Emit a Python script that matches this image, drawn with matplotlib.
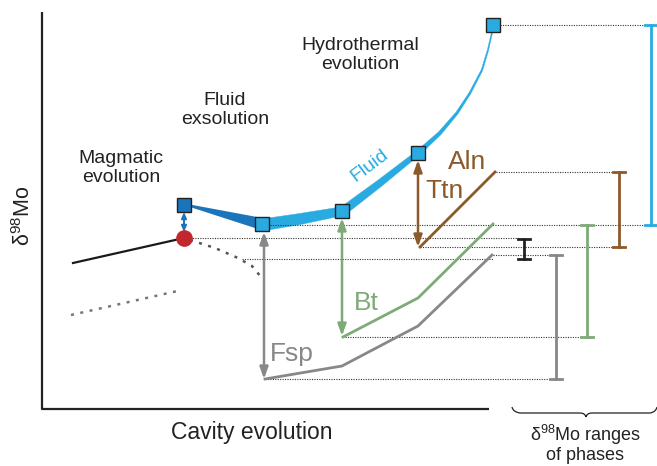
import numpy as np
import matplotlib.pyplot as plt
from matplotlib.path import Path
from matplotlib.patches import PathPatch, Polygon

plt.rcParams['font.family'] = ['Liberation Sans', 'DejaVu Sans']
plt.rcParams['mathtext.fontset'] = 'custom'
plt.rcParams['mathtext.rm'] = 'Liberation Sans'

# schematic in pixel units (y grows downward)
LBLUE, DBLUE, RED = '#29abe2', '#1b75bb', '#c1272d'
GRAY, GREEN, BROWN = '#88888b', '#7eaa78', '#8c5a2a'

melt_x, melt_y = [73, 184], [263, 238]
melt_low_x, melt_low_y = [71, 182], [315, 290]
curve_x, curve_y = [190, 215, 238, 252, 261], [240, 248, 258, 266, 277]

dark_x, dark_y, dark_w = [187, 262], [205, 224], [2, 12]
fluid_x = [262, 300, 343, 380, 418, 440, 457, 470, 482, 488, 493]
fluid_y = [225, 219, 211, 183, 153, 133, 113, 93, 70, 50, 28]
fluid_w = [12, 11, 9, 7, 5, 3.6, 2.6, 2.0, 1.6, 1.3, 1.1]
sq_x = [262, 342, 418, 493]
sq_y = [224, 211, 153, 25]

fsp_x, fsp_y = [265, 342, 418, 492], [379, 366, 326, 255]
bt_x, bt_y = [343, 418, 493], [337, 298, 224]
aln_x, aln_y = [420, 495], [247, 172]

# double arrows: x, top, bottom, colour
arrows = [(184, 212, 232, DBLUE), (264, 232, 379, GRAY),
          (342, 218, 336, GREEN), (418, 160, 247, BROWN)]

# dotted guide lines: y, x start, x end
guides = [(25, 500, 645), (172, 496, 617), (225, 270, 655), (238, 190, 520),
          (247, 420, 617), (255, 493, 556), (259, 242, 493),
          (337, 345, 590), (379, 265, 555)]

# range bars: x, top, bottom, colour
ranges = [(524, 239, 259, '#222222'), (556, 255, 379, GRAY),
          (587, 225, 337, GREEN), (619, 172, 247, BROWN), (651, 25, 225, LBLUE)]


def band(x, y, w):
    x = np.asarray(x, float)
    y = np.asarray(y, float)
    w = np.asarray(w, float) / 2
    dx = np.gradient(x)
    dy = np.gradient(y)
    n = np.hypot(dx, dy)
    nx, ny = -dy / n, dx / n
    top = np.column_stack([x + nx * w, y + ny * w])
    bot = np.column_stack([x - nx * w, y - ny * w])
    return np.vstack([top, bot[::-1]])


fig = plt.figure(figsize=(6.57, 4.66), dpi=100)
ax = fig.add_axes([0, 0, 1, 1])
ax.set_xlim(0, 657)
ax.set_ylim(466, 0)
ax.axis('off')

# axes frame
ax.plot([42, 42, 489], [12, 409, 409], color='#222222', lw=1.6, solid_capstyle='butt')

for y, x0, x1 in guides:
    ax.plot([x0, x1], [y, y], color='#333333', lw=0.8, ls=(0, (1, 1.2)))

ax.plot(melt_x, melt_y, color='#1a1a1a', lw=1.6)
ax.plot(melt_low_x, melt_low_y, color='#777777', lw=1.8, ls=(0, (1.2, 2.6)))
ax.plot(curve_x, curve_y, color='#555555', lw=1.8, ls=(0, (1.2, 2.6)))

ax.add_patch(Polygon(band(dark_x, dark_y, dark_w), closed=True, fc=DBLUE, ec='none'))
ax.add_patch(Polygon(band(fluid_x, fluid_y, fluid_w), closed=True, fc=LBLUE, ec=LBLUE,
                     lw=0.3, joinstyle='round'))

ax.plot(fsp_x, fsp_y, color=GRAY, lw=2)
ax.plot(bt_x, bt_y, color=GREEN, lw=2)
ax.plot(aln_x, aln_y, color=BROWN, lw=2)

for x, y0, y1, c in arrows:
    small = y1 - y0 < 30
    ax.annotate('', xy=(x, y0), xytext=(x, y1),
                arrowprops=dict(arrowstyle='<|-|>,head_length=%s,head_width=%s' %
                                ((0.35, 0.15) if small else (0.7, 0.25)),
                                color=c, lw=1.4 if small else 1.8, shrinkA=0, shrinkB=0))

for x, y0, y1, c in ranges:
    ax.plot([x, x], [y0, y1], color=c, lw=2)
    ax.plot([x - 6, x + 6], [y0, y0], color=c, lw=2)
    ax.plot([x - 6, x + 6], [y1, y1], color=c, lw=2)

ax.plot([184], [238], 'o', ms=11, color=RED, mec=RED, zorder=5)
ax.plot([184], [205], 's', ms=10.5, color=DBLUE, mec='#222222', mew=1, zorder=5)
ax.plot(sq_x, sq_y, 's', ms=10.5, color=LBLUE, mec='#222222', mew=1, zorder=5, ls='none')

# brace under the ranges
brace = Path([(512, 407), (513, 412), (520, 413), (580, 413), (585, 413), (586, 417),
              (586, 417), (587, 413), (592, 413), (650, 413), (656, 412), (657, 407)],
             [Path.MOVETO, Path.CURVE3, Path.CURVE3, Path.LINETO, Path.CURVE3, Path.CURVE3,
              Path.MOVETO, Path.CURVE3, Path.CURVE3, Path.LINETO, Path.CURVE3, Path.CURVE3])
ax.add_patch(PathPatch(brace, fc='none', ec='#222222', lw=0.9))

ax.text(121, 168, 'Magmatic\nevolution', ha='center', va='center', fontsize=14,
        color='#222222', linespacing=1.1)
ax.text(225, 110, 'Fluid\nexsolution', ha='center', va='center', fontsize=14,
        color='#222222', linespacing=1.1)
ax.text(360, 55, 'Hydrothermal\nevolution', ha='center', va='center', fontsize=14,
        color='#222222', linespacing=1.1)
ax.text(370, 166, 'Fluid', ha='center', va='center', fontsize=14, color=LBLUE, rotation=37)
ax.text(467, 162, 'Aln', ha='center', va='center', fontsize=19, color=BROWN)
ax.text(444, 191, 'Ttn', ha='center', va='center', fontsize=19, color=BROWN)
ax.text(366, 303, 'Bt', ha='center', va='center', fontsize=19, color=GREEN)
ax.text(292, 354, 'Fsp', ha='center', va='center', fontsize=19, color=GRAY)
ax.text(252, 433, 'Cavity evolution', ha='center', va='center', fontsize=16.5, color='#222222')
ax.text(24, 216, r'δ$^{\mathrm{98}}$Mo', ha='center', va='center', fontsize=15.5,
        rotation=90, color='#222222')
ax.text(586, 435, r'δ$^{\mathrm{98}}$Mo ranges', ha='center', va='center', fontsize=13,
        color='#222222')
ax.text(585, 456, 'of phases', ha='center', va='center', fontsize=13, color='#222222')

fig.savefig('out.png', dpi=100)
